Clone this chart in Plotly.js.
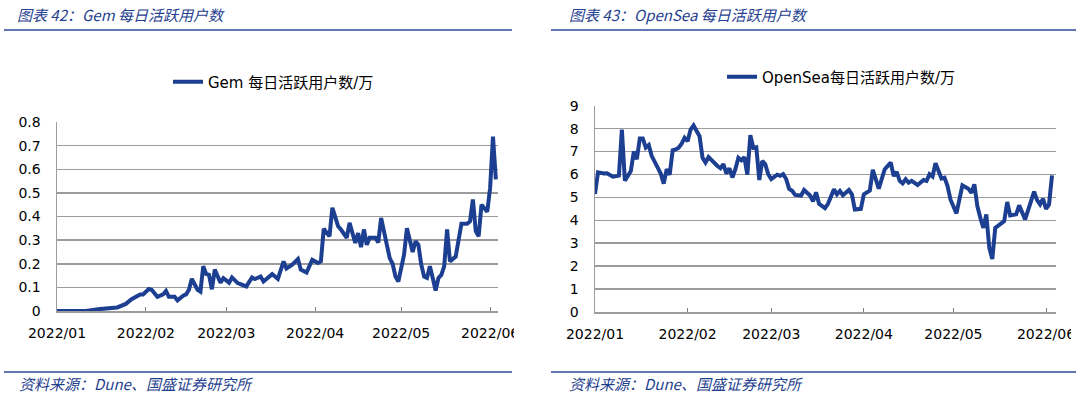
<!DOCTYPE html>
<html><head><meta charset="utf-8">
<script src="https://cdn.plot.ly/plotly-3.0.1.min.js"></script>
<style>html,body{margin:0;padding:0;background:#fff;}#chart{width:1080px;height:398px;}</style>
</head><body><div id="chart"></div>
<script>
// ---- data ----
const gemName = 'Gem 每日活跃用户数/万';
const gemDates = ['2022-01-01','2022-01-11','2022-01-16','2022-01-22','2022-01-25','2022-01-27','2022-01-30','2022-01-31',
'2022-02-02','2022-02-03','2022-02-05','2022-02-07','2022-02-08','2022-02-09','2022-02-11','2022-02-12','2022-02-14','2022-02-15','2022-02-16','2022-02-17','2022-02-19','2022-02-20','2022-02-21','2022-02-22','2022-02-23','2022-02-24','2022-02-25','2022-02-27','2022-02-28',
'2022-03-02','2022-03-03','2022-03-05','2022-03-08','2022-03-10','2022-03-11','2022-03-13','2022-03-14','2022-03-17','2022-03-19','2022-03-21','2022-03-22','2022-03-24','2022-03-26','2022-03-27','2022-03-29','2022-03-31',
'2022-04-02','2022-04-03','2022-04-04','2022-04-06','2022-04-07','2022-04-09','2022-04-10','2022-04-12','2022-04-13','2022-04-15','2022-04-16','2022-04-17','2022-04-18','2022-04-19','2022-04-20','2022-04-22','2022-04-23','2022-04-24','2022-04-26','2022-04-27','2022-04-28','2022-04-29','2022-04-30',
'2022-05-02','2022-05-03','2022-05-05','2022-05-06','2022-05-07','2022-05-08','2022-05-09','2022-05-10','2022-05-11','2022-05-12','2022-05-13','2022-05-14','2022-05-15','2022-05-16','2022-05-17','2022-05-18','2022-05-20','2022-05-21','2022-05-22','2022-05-24','2022-05-25','2022-05-26','2022-05-27','2022-05-28','2022-05-29','2022-05-31',
'2022-06-01','2022-06-02','2022-06-03'];
const gemUsers = [0,0,0.008,0.015,0.03,0.05,0.07,0.07,
0.093,0.09,0.06,0.07,0.085,0.06,0.06,0.045,0.065,0.07,0.09,0.136,0.09,0.082,0.19,0.157,0.153,0.092,0.175,0.12,0.139,
0.12,0.142,0.118,0.104,0.142,0.135,0.146,0.125,0.156,0.136,0.21,0.18,0.196,0.22,0.175,0.163,0.217,
0.203,0.21,0.348,0.316,0.437,0.359,0.345,0.31,0.373,0.288,0.33,0.27,0.345,0.28,0.31,0.31,0.29,0.394,0.28,0.224,0.2,0.146,0.125,
0.238,0.35,0.25,0.295,0.28,0.196,0.146,0.14,0.19,0.14,0.087,0.14,0.153,0.19,0.345,0.21,0.23,0.30,0.369,0.369,0.38,0.472,0.338,0.316,0.45,0.42,
0.52,0.738,0.557];

const osName = 'OpenSea每日活跃用户数/万';
const osDates = ['2022-01-01','2022-01-02','2022-01-04','2022-01-05','2022-01-07','2022-01-09','2022-01-10','2022-01-11','2022-01-13','2022-01-14','2022-01-15','2022-01-16','2022-01-17','2022-01-18','2022-01-19','2022-01-20','2022-01-22','2022-01-23','2022-01-24','2022-01-25','2022-01-26','2022-01-27','2022-01-28','2022-01-29','2022-01-30','2022-01-31',
'2022-02-01','2022-02-02','2022-02-03','2022-02-05','2022-02-06','2022-02-07','2022-02-08','2022-02-10','2022-02-11','2022-02-12','2022-02-13','2022-02-14','2022-02-15','2022-02-16','2022-02-17','2022-02-18','2022-02-19','2022-02-20','2022-02-21','2022-02-22','2022-02-23','2022-02-24','2022-02-25','2022-02-26','2022-02-27','2022-02-28',
'2022-03-01','2022-03-03','2022-03-04','2022-03-05','2022-03-06','2022-03-07','2022-03-08','2022-03-09','2022-03-11','2022-03-12','2022-03-14','2022-03-15','2022-03-16','2022-03-17','2022-03-19','2022-03-20','2022-03-22','2022-03-23','2022-03-24','2022-03-25','2022-03-27','2022-03-28','2022-03-29','2022-03-31',
'2022-04-01','2022-04-03','2022-04-04','2022-04-06','2022-04-07','2022-04-08','2022-04-10','2022-04-11','2022-04-12','2022-04-13','2022-04-14','2022-04-15','2022-04-16','2022-04-17','2022-04-19','2022-04-21','2022-04-22','2022-04-23','2022-04-24','2022-04-25','2022-04-27','2022-04-28','2022-04-29','2022-04-30',
'2022-05-02','2022-05-03','2022-05-04','2022-05-06','2022-05-07','2022-05-08','2022-05-09','2022-05-10','2022-05-11','2022-05-12','2022-05-13','2022-05-14','2022-05-15','2022-05-16','2022-05-18','2022-05-19','2022-05-20','2022-05-22','2022-05-23','2022-05-25','2022-05-26','2022-05-28','2022-05-29','2022-05-30','2022-05-31',
'2022-06-01','2022-06-02','2022-06-03'];
const osUsers = [5.15,6.09,6.04,6.05,5.9,5.95,7.96,5.73,6.15,7.0,6.66,7.57,7.57,7.17,7.28,6.8,6.3,6.04,5.6,6.23,5.99,7.05,7.09,7.17,7.34,7.6,
7.45,7.96,8.14,7.67,6.73,6.52,6.76,6.47,6.37,6.27,6.45,6.04,6.27,5.87,6.23,6.73,6.62,6.76,5.99,7.71,7.17,7.19,5.76,6.59,6.45,6.01,
5.8,5.99,5.94,6.01,5.8,5.37,5.29,5.11,5.08,5.32,5.08,4.83,5.22,4.72,4.53,4.72,5.35,5.13,5.28,5.09,5.32,5.13,4.47,4.5,
5.13,5.3,6.2,5.38,5.86,6.23,6.52,5.93,6.11,5.72,5.61,5.79,5.64,5.72,5.54,5.76,5.72,6.01,5.91,6.49,5.82,5.86,5.5,4.91,
4.3,4.99,5.53,5.38,5.2,5.57,4.62,4.11,3.67,4.26,2.8,2.31,3.67,3.77,3.96,4.8,4.21,4.26,4.65,4.04,4.47,5.25,4.88,4.69,4.94,
4.5,4.69,5.96];

const monthTicks = ['2022-01-01','2022-02-01','2022-03-01','2022-04-01','2022-05-01','2022-06-01'];
const monthLabels = ['2022/01','2022/02','2022/03','2022/04','2022/05','2022/06'];

const headerLeft = '图表 42：Gem 每日活跃用户数';
const headerRight = '图表 43：OpenSea 每日活跃用户数';
const sourceText = '资料来源：Dune、国盛证券研究所';

// ---- layout helpers (pixels -> paper) ----
const W = 1080, H = 398;
const px = x => x / W;
const py = y => 1 - y / H;

const lineColor = '#1d3f91';
const brand = '#1f3f8f';
const gridColor = '#9c9c9c';
const tickFont = {family: 'DejaVu Sans, Noto Sans CJK SC', size: 14, color: '#000'};

const traces = [
  {x: gemDates, y: gemUsers, name: gemName, type: 'scatter', mode: 'lines',
   line: {color: lineColor, width: 4}, xaxis: 'x', yaxis: 'y', legend: 'legend'},
  {x: osDates, y: osUsers, name: osName, type: 'scatter', mode: 'lines',
   line: {color: lineColor, width: 4}, xaxis: 'x2', yaxis: 'y2', legend: 'legend2'}
];

function xAxis(domain, range, anchor) {
  return {domain: domain, anchor: anchor, type: 'date', range: range,
    tickmode: 'array', tickvals: monthTicks, ticktext: monthLabels,
    ticks: 'inside', ticklen: 4, tickwidth: 1, tickcolor: '#808080',
    ticklabelstandoff: 9,
    showgrid: false, zeroline: false, showline: true, linecolor: gridColor, linewidth: 1.5,
    tickfont: tickFont, fixedrange: true};
}
function yAxis(domain, range, dtick, anchor) {
  return {domain: domain, anchor: anchor, range: range, dtick: dtick,
    showgrid: true, gridcolor: gridColor, gridwidth: 1.5, zeroline: false,
    showline: true, linecolor: gridColor, linewidth: 1.5, ticks: '',
    ticklabelstandoff: 12, tickfont: tickFont, fixedrange: true};
}

const headerFont = {family: 'Noto Sans CJK SC', size: 15, color: brand, style: 'italic'};
const legendFont = {family: 'DejaVu Sans, Noto Sans CJK SC', size: 15, color: '#000'};

const layout = {
  width: W, height: H, margin: {l: 0, r: 0, t: 0, b: 0},
  paper_bgcolor: '#fff', plot_bgcolor: '#fff',
  showlegend: true,
  xaxis: xAxis([px(57), px(498)], ['2022-01-01', '2022-06-03 18:00'], 'y'),
  yaxis: yAxis([py(311), py(122)], [0, 0.8], 0.1, 'x'),
  xaxis2: xAxis([px(595), px(1056)], ['2022-01-01', '2022-06-04 08:00'], 'y2'),
  yaxis2: yAxis([py(312), py(105.7)], [0, 9], 1, 'x2'),
  legend: {x: px(168), y: py(82), xanchor: 'left', yanchor: 'middle', orientation: 'h',
    font: legendFont, bgcolor: 'rgba(0,0,0,0)'},
  legend2: {x: px(722), y: py(77), xanchor: 'left', yanchor: 'middle', orientation: 'h',
    font: legendFont, bgcolor: 'rgba(0,0,0,0)'},
  annotations: [
    {text: headerLeft, xref: 'paper', yref: 'paper', x: px(15), y: py(14), xanchor: 'left', yanchor: 'middle', showarrow: false, font: headerFont},
    {text: headerRight, xref: 'paper', yref: 'paper', x: px(567), y: py(14), xanchor: 'left', yanchor: 'middle', showarrow: false, font: headerFont},
    {text: sourceText, xref: 'paper', yref: 'paper', x: px(17), y: py(383), xanchor: 'left', yanchor: 'middle', showarrow: false, font: headerFont},
    {text: sourceText, xref: 'paper', yref: 'paper', x: px(567), y: py(383), xanchor: 'left', yanchor: 'middle', showarrow: false, font: headerFont}
  ],
  shapes: [
    {type: 'line', xref: 'paper', yref: 'paper', x0: px(4), x1: px(512), y0: py(30), y1: py(30), line: {color: '#2b4c9b', width: 1.5}},
    {type: 'line', xref: 'paper', yref: 'paper', x0: px(551), x1: px(1076), y0: py(30), y1: py(30), line: {color: '#2b4c9b', width: 1.5}},
    {type: 'line', xref: 'paper', yref: 'paper', x0: px(4), x1: px(512), y0: py(372), y1: py(372), line: {color: '#2b4c9b', width: 1.5}},
    {type: 'line', xref: 'paper', yref: 'paper', x0: px(551), x1: px(1076), y0: py(372), y1: py(372), line: {color: '#2b4c9b', width: 1.5}},
    {type: 'rect', xref: 'paper', yref: 'paper', x0: px(514), x1: px(548), y0: py(348), y1: py(318), line: {width: 0}, fillcolor: '#fff', layer: 'above'},
    {type: 'rect', xref: 'paper', yref: 'paper', x0: px(1071), x1: px(1080), y0: py(348), y1: py(318), line: {width: 0}, fillcolor: '#fff', layer: 'above'}
  ]
};

Plotly.newPlot('chart', traces, layout, {displayModeBar: false, staticPlot: true});
</script>
</body></html>
